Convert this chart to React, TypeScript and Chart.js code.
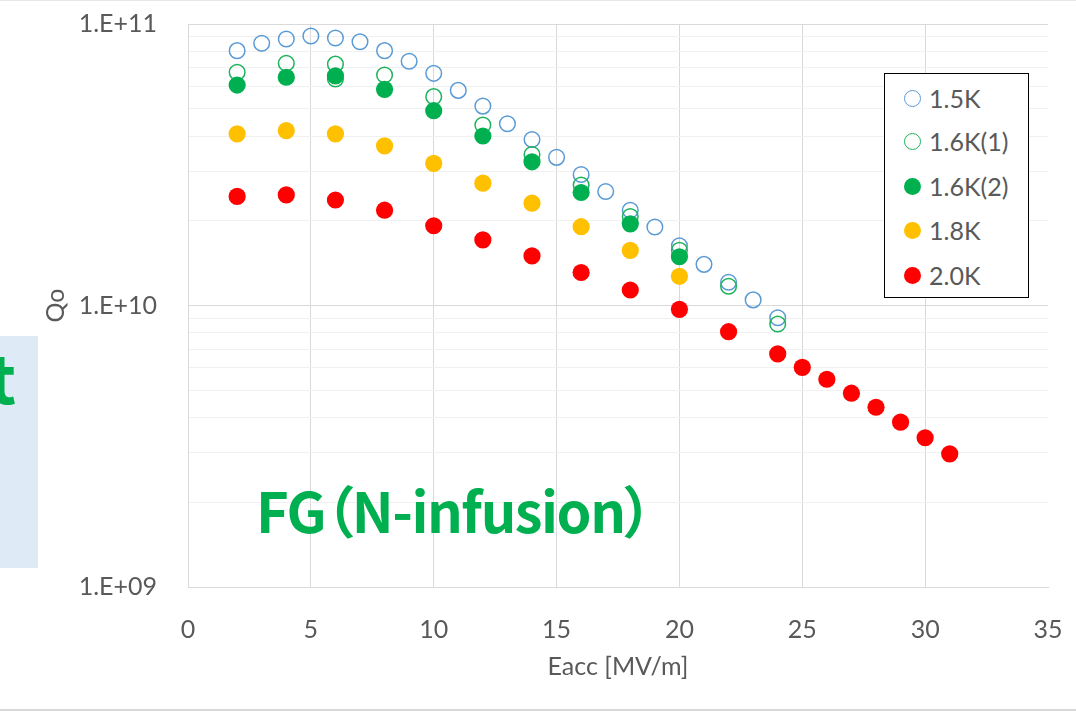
import React, { useEffect, useRef } from "react";
import { Chart, registerables } from "chart.js";

Chart.register(...registerables);

// ---- data (Eacc [MV/m], Qo) ----
const eacc15K = [2, 3, 4, 5, 6, 7, 8, 9, 10, 11, 12, 13, 14, 15, 16, 17, 18, 19, 20, 21, 22, 23, 24];
const q15K = [8.04e10, 8.54e10, 8.85e10, 9.06e10, 8.92e10, 8.65e10, 8.04e10, 7.37e10, 6.68e10, 5.81e10, 5.11e10, 4.42e10, 3.89e10, 3.36e10, 2.92e10, 2.54e10, 2.18e10, 1.9e10, 1.63e10, 1.4e10, 1.21e10, 1.047e10, 9.05e9];

const eacc16K1 = [2, 4, 6, 6, 8, 10, 12, 14, 16, 18, 20, 22, 24];
const q16K1 = [6.74e10, 7.25e10, 7.2e10, 6.38e10, 6.59e10, 5.52e10, 4.38e10, 3.44e10, 2.68e10, 2.07e10, 1.57e10, 1.17e10, 8.6e9];

const eacc16K2 = [2, 4, 6, 8, 10, 12, 14, 16, 18, 20];
const q16K2 = [6.07e10, 6.47e10, 6.54e10, 5.86e10, 4.92e10, 4.0e10, 3.24e10, 2.52e10, 1.95e10, 1.49e10];

const eacc18K = [2, 4, 6, 8, 10, 12, 14, 16, 18, 20];
const q18K = [4.07e10, 4.18e10, 4.07e10, 3.69e10, 3.2e10, 2.72e10, 2.31e10, 1.905e10, 1.57e10, 1.27e10];

const eacc20K = [2, 4, 6, 8, 10, 12, 14, 16, 18, 20, 22, 24, 25, 26, 27, 28, 29, 30, 31];
const q20K = [2.44e10, 2.47e10, 2.37e10, 2.18e10, 1.92e10, 1.71e10, 1.5e10, 1.31e10, 1.135e10, 9.69e9, 8.07e9, 6.73e9, 6.03e9, 5.47e9, 4.88e9, 4.35e9, 3.85e9, 3.39e9, 2.97e9];

const seriesLabels = ["1.5K", "1.6K(1)", "1.6K(2)", "1.8K", "2.0K"];
const seriesX = [eacc15K, eacc16K1, eacc16K2, eacc18K, eacc20K];
const seriesY = [q15K, q16K1, q16K2, q18K, q20K];
const seriesColors = ["#5B9BD5", "#1DB25C", "#00B050", "#FFC000", "#FF0000"];
const seriesFilled = [false, false, true, true, true];

const xTickStep = 5;
const xMin = 0;
const xMax = 35;
const yMin = 1e9;
const yMax = 1e11;
const xTitle = "Eacc [MV/m]";
const yTitle = "Qo";
const annotationText = "FG（N-infusion）";

const TICK_COLOR = "#595959";
const FONT = "Lato";

function isDecade(v: number) {
  const l = Math.log10(v);
  return Math.abs(l - Math.round(l)) < 1e-9;
}

function decadeLabel(v: number) {
  const e = Math.round(Math.log10(v));
  return "1.E+" + (e < 10 ? "0" + e : String(e));
}

function zeroPadding(s: any) {
  s.paddingTop = 0;
  s.paddingBottom = 0;
  s.paddingLeft = 0;
  s.paddingRight = 0;
}

export default function App() {
  const canvasRef = useRef<HTMLCanvasElement | null>(null);

  useEffect(() => {
    const canvas = canvasRef.current;
    if (!canvas) return;
    const datasets = seriesLabels.map((label, i) => ({
      label,
      data: seriesX[i].map((x, j) => ({ x, y: seriesY[i][j] })),
      showLine: false,
      pointStyle: "circle" as const,
      pointRadius: seriesFilled[i] ? 8.6 : 7.8,
      pointHoverRadius: seriesFilled[i] ? 8.6 : 7.8,
      borderWidth: seriesFilled[i] ? 0 : 1.5,
      borderColor: seriesColors[i],
      backgroundColor: seriesFilled[i] ? seriesColors[i] : "rgba(0,0,0,0)",
      order: seriesLabels.length - i,
    }));

    const chart = new Chart(canvas, {
      type: "scatter",
      data: { datasets },
      options: {
        animation: false,
        responsive: false,
        maintainAspectRatio: false,
        layout: { padding: { left: 37, top: 24, right: 28, bottom: 0 } },
        plugins: { legend: { display: false }, tooltip: { enabled: false } },
        scales: {
          x: {
            type: "linear",
            min: xMin,
            max: xMax,
            afterFit: (s: any) => {
              s.height = 125;
              zeroPadding(s);
            },
            ticks: {
              stepSize: xTickStep,
              color: TICK_COLOR,
              font: { family: FONT, size: 25 },
              padding: 28,
              autoSkip: false,
              maxRotation: 0,
            },
            grid: {
              color: (ctx: any) =>
                ctx.tick && ctx.tick.value === xMax ? "rgba(0,0,0,0)" : "#d9d9d9",
              lineWidth: 1,
              drawTicks: false,
            },
            border: { color: "#d9d9d9", width: 1 },
            title: {
              display: true,
              text: xTitle,
              color: TICK_COLOR,
              font: { family: FONT, size: 25 },
              padding: { top: 4, bottom: 30 },
            },
          },
          y: {
            type: "logarithmic",
            min: yMin,
            max: yMax,
            afterFit: (s: any) => {
              s.width = 151;
              zeroPadding(s);
            },
            afterBuildTicks: (s: any) => {
              const ticks: { value: number; major?: boolean }[] = [];
              for (let e = 9; e < 11; e++) {
                for (let m = 1; m <= 9; m++) {
                  ticks.push({ value: m * Math.pow(10, e), major: m === 1 });
                }
              }
              ticks.push({ value: 1e11, major: true });
              s.ticks = ticks;
            },
            ticks: {
              autoSkip: false,
              color: TICK_COLOR,
              font: { family: FONT, size: 25 },
              padding: 31,
              callback: (v: any) => (isDecade(Number(v)) ? decadeLabel(Number(v)) : ""),
            },
            grid: {
              color: (ctx: any) =>
                ctx.tick && isDecade(ctx.tick.value) ? "#d9d9d9" : "#f0f0f0",
              lineWidth: 1,
              drawTicks: false,
            },
            border: { color: "#d9d9d9", width: 1 },
            title: {
              display: true,
              text: yTitle,
              color: TICK_COLOR,
              font: { family: FONT, size: 25 },
              padding: { top: 4, bottom: 4 },
            },
          },
        },
      },
    });
    return () => chart.destroy();
  }, []);

  const legendCentersY = [24, 67, 112, 156, 201];

  return (
    <div style={{ position: "absolute", left: 0, top: 0, width: 1076, height: 712, background: "#fff", overflow: "hidden" }}>
      <div style={{ position: "absolute", left: 0, top: 0, width: 1076, height: 1, background: "#e8e8e8" }} />
      <div style={{ position: "absolute", left: 0, top: 709, width: 1076, height: 2, background: "#d9d9d9" }} />
      <div style={{ position: "absolute", left: 0, top: 336, width: 38, height: 232, background: "#DEEBF7", overflow: "hidden" }}>
        <div
          style={{
            position: "absolute",
            right: 22,
            top: 6,
            fontFamily: "'Noto Sans CJK JP'",
            fontWeight: 700,
            fontSize: 66,
            lineHeight: 1,
            color: "#00B050",
            whiteSpace: "nowrap",
          }}
        >
          t
        </div>
      </div>
      <canvas ref={canvasRef} width={1076} height={712} style={{ position: "absolute", left: 0, top: 0, width: 1076, height: 712 }} />
      <div
        style={{
          position: "absolute",
          left: 256,
          top: 481,
          fontFamily: "'Noto Sans CJK JP'",
          fontWeight: 700,
          fontSize: 56,
          lineHeight: 1,
          letterSpacing: "-1.5px",
          color: "#00B050",
          whiteSpace: "nowrap",
          fontFeatureSettings: '"palt"',
        }}
      >
        {annotationText}
      </div>
      <div
        style={{
          position: "absolute",
          left: 884,
          top: 73,
          width: 145,
          height: 225,
          border: "1px solid #000",
          boxSizing: "border-box",
          background: "#fff",
        }}
      >
        {seriesLabels.map((label, i) => (
          <div key={label} style={{ position: "absolute", left: 0, top: legendCentersY[i] - 15, height: 30, width: 140 }}>
            <div
              style={{
                position: "absolute",
                left: 27 - 8.5,
                top: 15 - 8.5,
                width: 17,
                height: 17,
                borderRadius: "50%",
                boxSizing: "border-box",
                border: seriesFilled[i] ? "none" : `1.5px solid ${seriesColors[i]}`,
                background: seriesFilled[i] ? seriesColors[i] : "transparent",
              }}
            />
            <div
              style={{
                position: "absolute",
                left: 44,
                top: 0,
                height: 30,
                lineHeight: "30px",
                fontFamily: FONT,
                fontSize: 25,
                color: TICK_COLOR,
                whiteSpace: "nowrap",
              }}
            >
              {label}
            </div>
          </div>
        ))}
      </div>
    </div>
  );
}
